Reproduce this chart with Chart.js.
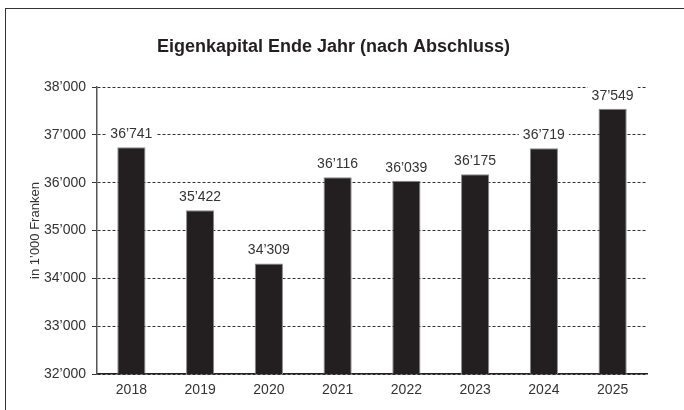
<!DOCTYPE html>
<html lang="de">
<head>
  <meta charset="UTF-8" />
  <title>Eigenkapital Ende Jahr</title>
  <script src="https://cdn.jsdelivr.net/npm/chart.js"></script>
  <style>
    body { margin: 0; background: #fff; overflow: hidden; }
    .wrap { position: relative; width: 684px; height: 410px; }
    .frame { position: absolute; left: 5px; top: 8px; width: 800px; height: 600px; border-left: 1.5px solid #333; border-top: 1.5px solid #333; }
    canvas { position: absolute; left: 0; top: 0; }
  </style>
</head>
<body>
  <div class="wrap">
    <div class="frame"></div>
    <canvas id="ekChart" width="684" height="410"></canvas>
  </div>
  <script>
    const years = ['2018', '2019', '2020', '2021', '2022', '2023', '2024', '2025'];
    const equity = [36741, 35422, 34309, 36116, 36039, 36175, 36719, 37549];
    const yMin = 32000;
    const yMax = 38000;
    const yStep = 1000;

    function fmt(v) {
      // Schweizer Tausendertrennzeichen
      const s = String(Math.round(v));
      return s.length > 3 ? s.slice(0, -3) + '\u2019' + s.slice(-3) : s;
    }

    Chart.defaults.font.family = "'Liberation Sans', Arial, sans-serif";
    Chart.defaults.color = '#333';

    const valueLabels = {
      id: 'valueLabels',
      afterDatasetsDraw(chart) {
        const ctx = chart.ctx;
        const meta = chart.getDatasetMeta(0);
        ctx.save();
        ctx.font = "14px 'Liberation Sans', Arial, sans-serif";
        ctx.textAlign = 'center';
        ctx.textBaseline = 'middle';
        meta.data.forEach((bar, i) => {
          const txt = fmt(equity[i]);
          const w = ctx.measureText(txt).width;
          const y = bar.y - 14;
          ctx.fillStyle = '#fff';
          ctx.fillRect(bar.x - w / 2 - 4, y - 9, w + 8, 18);
          ctx.fillStyle = '#333';
          ctx.fillText(txt, bar.x, y + 1);
        });
        ctx.restore();
      }
    };

    new Chart(document.getElementById('ekChart').getContext('2d'), {
      type: 'bar',
      data: {
        labels: years,
        datasets: [{
          data: equity,
          backgroundColor: '#231f20',
          borderColor: '#8a8a8a',
          borderWidth: 1,
          barPercentage: 0.41,
          categoryPercentage: 1
        }]
      },
      options: {
        responsive: false,
        animation: false,
        layout: { padding: { left: 20, right: 37, top: 10, bottom: 0 } },
        plugins: {
          legend: { display: false },
          tooltip: { enabled: false },
          title: {
            display: true,
            text: 'Eigenkapital Ende Jahr (nach Abschluss)',
            color: '#231f20',
            font: { size: 18, weight: 'bold' },
            padding: { top: 26, bottom: 29.5 }
          }
        },
        scales: {
          x: {
            grid: { display: false, drawTicks: false },
            border: { display: true, color: '#222', width: 1.5 },
            ticks: { font: { size: 14 }, color: '#333', padding: 8 },
            afterFit: s => { s.height = 36; }
          },
          y: {
            min: yMin,
            max: yMax,
            ticks: { stepSize: yStep, font: { size: 14 }, color: '#333', padding: 6, callback: v => fmt(v) },
            grid: {
              color: '#333',
              lineWidth: 1,
              tickLength: 5,
              tickColor: '#333',
              tickBorderDash: []
            },
            border: { display: true, color: '#555', width: 1.5, dash: [3, 2] },
            title: { display: true, text: 'in 1\u2019000 Franken', font: { size: 13 }, color: '#333', padding: { top: 8, bottom: 0 } },
            afterFit: s => { s.width = 77; }
          }
        }
      },
      plugins: [valueLabels]
    });
  </script>
</body>
</html>
